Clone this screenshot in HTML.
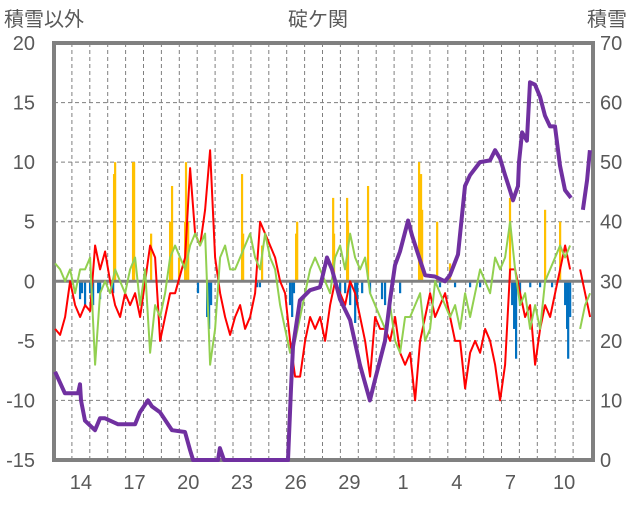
<!DOCTYPE html>
<html><head><meta charset="utf-8"><style>
body{margin:0;background:#fff;width:636px;height:501px;overflow:hidden}
svg text{font-family:"Liberation Sans","Noto Sans CJK JP",sans-serif;fill:#595959}
</style></head><body>
<svg id="c" width="636" height="501" viewBox="0 0 636 501" xmlns="http://www.w3.org/2000/svg">
<text x="318" y="26" font-size="20" text-anchor="middle">碇ケ関</text>
<text x="4" y="26" font-size="20">積雪以外</text>
<text x="587" y="26" font-size="20">積雪</text>
<g id="grid"></g><g id="bars"></g><g id="axes"></g><g id="lines"></g>
</svg>
<script>
const xTickLabels=["14","17","20","23","26","29","1","4","7","10"];
const leftTicks=[20,15,10,5,0,-5,-10,-15];
const rightTicks=[70,60,50,40,30,20,10,0];
const lineStep=5/17.9;
const redValues=[-4,-4.5,-3,0,-2,-3,-2,-2.5,3,1,2.5,0,-2,-3,-1,-2,-1,-3,0,3,2,-5,-3,-1,-1,0.5,2,9.5,4,3,6,11,2,-1,-3,-4.5,-3,-2,-4,-3,-1,5,4,3,2,0,-1,-5,-8,-8,-5,-3,-4,-3,-5,-2,0,-1,-2,0,-1,-3,-5,-8,-3,-4,-4,-5,-3,-6,-7,-6,-10,-5,-3,-1,-3,-2,-1,-3,-5,-5,-9,-6,-5,-6,-4,-5,-7,-10,-7,1,1,-1,-3,-2,-7,-4,-2,-3,-1,1,3,1,null,1,-1,-3];
const greenValues=[1.5,1,0,1,-1,1,1,2,-7,-1,0,-1,1,0,-1,1,2,-2,1,-6,-2,-3,-1,2,3,2,1,3,4,3,4,-7,-4,2,3,1,1,2,3,4,2,1,4,2,1,-2,-4,-6,-5,-3,-1,1,2,1,0,-1,2,3,1,4,2,1,2,-1,-2,-3,-4,-2,-5,-6,-3,-3,-2,-1,-5,-4,0,-1,-2,-3,-2,-4,-1,-3,-1,1,0,-1,2,1,2,5,1,-2,-1,-4,-2,-4,0,1,2,3,2,3,null,-4,-2,-1];
const snowDays=[.06,.61,1.34,1.45,1.51,1.73,2.29,2.57,2.85,3.58,4.53,4.8,5.25,5.47,5.92,6.59,7.32,7.6,7.77,9.16,9.27,9.5,13.07,13.24,13.35,13.74,14.3,14.86,15.25,15.53,15.98,16.54,17.09,17.65,17.93,18.49,18.77,19.05,19.33,19.78,20,20.45,20.73,21.28,21.84,22.12,22.57,22.96,23.24,23.8,24.36,24.64,24.92,25.2,25.47,25.64,25.92,25.98,26.15,26.42,26.59,26.87,27.15,27.43,27.71,27.99,28.27,28.55,28.88,29.2,29.55,29.78,29.94];
const snowDepth=[14.8,11.2,11.2,12.7,10,6.6,5,7,7,6,6,8,10,9,8,5,4.7,1.7,0,0,2,0,0,12,19,26.8,28.5,29,34,32,27,23.5,16,10,13.4,20,26.8,32.7,35,40.2,37.7,33.5,31,30.8,30,31,34.5,46,47.8,50,50.3,52,50.6,47.8,45.3,43.6,46,50,55,53.6,63.4,63,61,57.8,56,56,49.4,45.3,44,null,42,47,52];
const precipDays=[3.35,3.41,4.41,4.47,5.42,6.48,6.59,6.98,7.32,7.37,7.49,10.5,10.56,11.62,13.52,13.58,15.59,15.64,16.37,16.42,17.54,20.39,20.45,20.5,20.56,21.4,22.12,25.47,27.43,28.27];
const precipValues=[9,10,10,10,4,5,8,2,5,10,5,9,4,3,4,5,7,4,7,5,8,10,8,9,6,5,1.5,7,6,5];
const negDays=[1.45,1.56,1.73,2.01,2.18,2.46,2.57,3.3,8.04,8.55,8.66,8.77,11.34,11.5,13.18,13.3,13.4,15.98,16.26,16.54,16.82,16.93,17.21,17.65,18.32,18.49,18.88,19.33,21.56,22.4,23.24,23.8,25.59,25.7,25.81,26.03,26.6,27.15,27.82,28.55,28.66,28.72,28.83];
const negValues=[-1.5,-1,-2,-1,-2,-1,-1.5,-1,-1,-3,-4,-2,-0.5,-0.5,-2,-3,-1,-1,-1,-2,-3.5,-2,-1,-1,-1.5,-2,-0.5,-1,-0.5,-0.5,-0.5,-0.5,-2,-4,-6.5,-2,-0.5,-0.5,-0.5,-2,-4,-6.5,-3];

const X0=54,X1=593,Y0=43,Y1=460,DAY=17.9;
const xs=d=>X0+d*DAY;
const yL=v=>Y0+(20-v)*(Y1-Y0)/35;
const yR=v=>Y1-v*(Y1-Y0)/70;
const NS="http://www.w3.org/2000/svg";
function mk(tag,parent,attrs){const e=document.createElementNS(NS,tag);for(const k in attrs)e.setAttribute(k,attrs[k]);parent.appendChild(e);return e;}
const grid=document.getElementById('grid'),bars=document.getElementById('bars'),lines=document.getElementById('lines'),axes=document.getElementById('axes');
for(let d=1;d<=29;d++){const l=mk('line',grid,{x1:xs(d),x2:xs(d),y1:Y0,y2:Y1,stroke:'#7f7f7f','stroke-width':1,'stroke-dasharray':'4,3'});

}
leftTicks.forEach(v=>{if(v!==20&&v!==-15&&v!==0){const l=mk('line',grid,{x1:X0,x2:X1,y1:yL(v),y2:yL(v),stroke:'#7f7f7f','stroke-width':1,'stroke-dasharray':'4,3'});

}
const t=mk('text',axes,{x:35,y:yL(v)+7,'font-size':20,'text-anchor':'end'});t.textContent=v;

});
rightTicks.forEach(v=>{const t=mk('text',axes,{x:600,y:yR(v)+7,'font-size':20});t.textContent=v;

});
xTickLabels.forEach((s,i)=>{const t=mk('text',axes,{x:xs(1.5+3*i),y:489,'font-size':20,'text-anchor':'middle'});t.textContent=s;

});
precipDays.forEach((d,i)=>{const y=yL(precipValues[i]);const r=mk('rect',bars,{x:xs(d)-1,y:y,width:2.2,height:yL(0)-y,fill:'#ffc000'});

});
negDays.forEach((d,i)=>{const y=yL(negValues[i]);const r=mk('rect',bars,{x:xs(d)-1,y:yL(0),width:2.2,height:y-yL(0),fill:'#0070c0'});

});
const z=mk('line',axes,{x1:X0,x2:X1,y1:yL(0),y2:yL(0),stroke:'#808080','stroke-width':3});


const f=mk('rect',axes,{x:X0,y:Y0,width:X1-X0,height:Y1-Y0,fill:'none',stroke:'#808080','stroke-width':4});


function path(vals,xf,yf){let s='',pen=false;vals.forEach((v,i)=>{if(v===null){pen=false;return;}s+=(pen?'L':'M')+xf(i).toFixed(1)+','+yf(v).toFixed(1);pen=true;});return s;}
const red=mk('path',lines,{d:path(redValues,i=>xs(.06+i*lineStep),yL),fill:'none',stroke:'#ff0000','stroke-width':2,'stroke-linejoin':'round'});


const green=mk('path',lines,{d:path(greenValues,i=>xs(.06+i*lineStep),yL),fill:'none',stroke:'#92d050','stroke-width':2,'stroke-linejoin':'round'});


const snow=mk('path',lines,{d:path(snowDepth,i=>xs(snowDays[i]),yR),fill:'none',stroke:'#7030a0','stroke-width':4,'stroke-linejoin':'round'});


</script>
</body></html>
